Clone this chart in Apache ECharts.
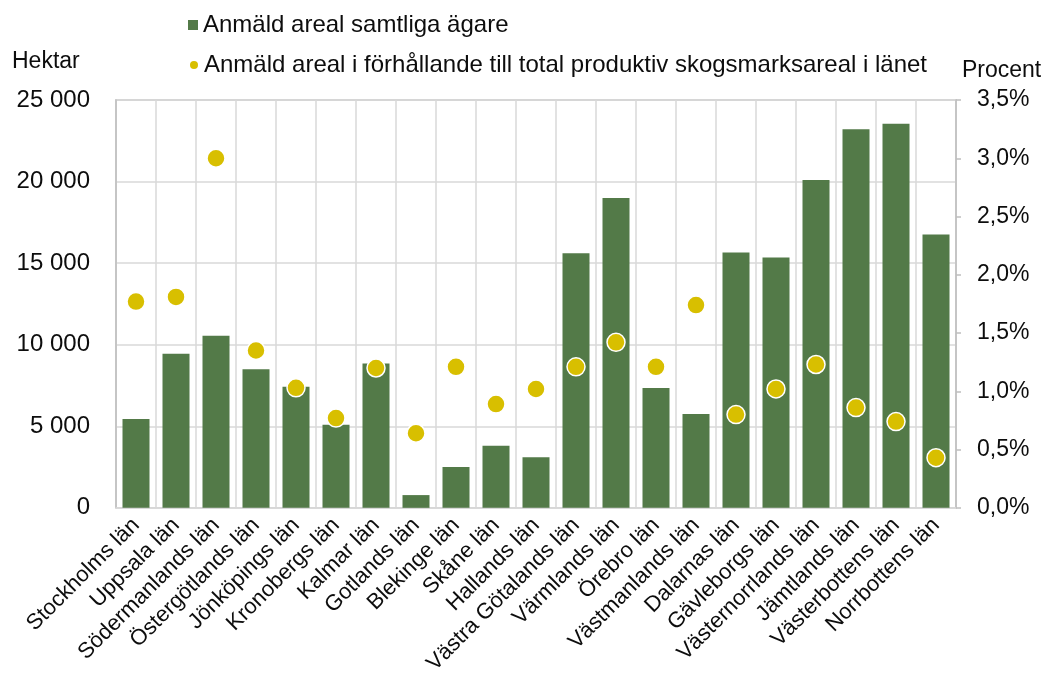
<!DOCTYPE html>
<html>
<head>
<meta charset="utf-8">
<script src="https://cdn.jsdelivr.net/npm/echarts@6/dist/echarts.min.js"></script>
<style>
html,body{margin:0;padding:0;background:#fff;}
#chart{width:1049px;height:677px;}
</style>
</head>
<body>
<div id="chart"></div>
<script>
var categories = ["Stockholms län","Uppsala län","Södermanlands län","Östergötlands län","Jönköpings län","Kronobergs län","Kalmar län","Gotlands län","Blekinge län","Skåne län","Hallands län","Västra Götalands län","Värmlands län","Örebro län","Västmanlands län","Dalarnas län","Gävleborgs län","Västernorrlands län","Jämtlands län","Västerbottens län","Norrbottens län"];
var hektar = [5450, 9450, 10550, 8500, 7425, 5100, 8850, 780, 2500, 3800, 3100, 15600, 19000, 7350, 5750, 15650, 15350, 20100, 23200, 23550, 16750];
var procent = [1.77, 1.81, 3.00, 1.35, 1.03, 0.77, 1.20, 0.64, 1.21, 0.89, 1.02, 1.21, 1.42, 1.21, 1.74, 0.80, 1.02, 1.23, 0.86, 0.74, 0.43];
var seriesNames = ["Anmäld areal samtliga ägare", "Anmäld areal i förhållande till total produktiv skogsmarksareal i länet"];
var leftTicks = {min: 0, max: 25000, interval: 5000};
var rightTicks = {min: 0, max: 3.5, interval: 0.5};

var FONT = '"Liberation Sans", Arial, sans-serif';
var chart = echarts.init(document.getElementById('chart'));
chart.setOption({
  animation: false,
  textStyle: {fontFamily: FONT, color: '#0d0d0d'},
  legend: [
    {data: [{name: seriesNames[0], icon: 'rect'}], left: 183, top: 7, itemWidth: 10, itemHeight: 10, itemGap: 0,
     textStyle: {fontFamily: FONT, fontSize: 24, color: '#0d0d0d', lineHeight: 26}},
    {data: [{name: seriesNames[1], icon: 'circle'}], left: 183, top: 47, itemWidth: 10, itemHeight: 10, itemGap: 0,
     textStyle: {fontFamily: FONT, fontSize: 24, color: '#0d0d0d', lineHeight: 26}}
  ],
  graphic: [
    {type: 'text', left: 12, top: 50, style: {text: 'Hektar', font: '23px ' + FONT, fill: '#0d0d0d'}},
    {type: 'text', left: 962, top: 59, style: {text: 'Procent', font: '23px ' + FONT, fill: '#0d0d0d'}}
  ],
  grid: {left: 116, right: 93, top: 100, bottom: 163.5, show: true, borderColor: '#bfbfbf', borderWidth: 1.5},
  xAxis: {
    type: 'category', data: categories, boundaryGap: true,
    axisLine: {show: true, lineStyle: {color: '#d9d9d9', width: 1.5}},
    axisTick: {show: false},
    splitLine: {show: true, lineStyle: {color: '#d9d9d9', width: 1.5}},
    axisLabel: {rotate: 45, interval: 0, fontSize: 22, margin: 14, color: '#0d0d0d', fontFamily: FONT}
  },
  yAxis: [
    {type: 'value', min: leftTicks.min, max: leftTicks.max, interval: leftTicks.interval, position: 'left',
     axisLine: {show: true, lineStyle: {color: '#bfbfbf', width: 1.5}}, axisTick: {show: false},
     splitLine: {show: true, lineStyle: {color: '#d9d9d9', width: 1.5}},
     axisLabel: {fontSize: 24, margin: 26, color: '#0d0d0d', fontFamily: FONT,
       formatter: function (v) { return String(v).replace(/\B(?=(\d{3})+(?!\d))/g, ' '); }}},
    {type: 'value', min: rightTicks.min, max: rightTicks.max, interval: rightTicks.interval, position: 'right',
     axisLine: {show: true, lineStyle: {color: '#bfbfbf', width: 1.5}},
     axisTick: {show: true, inside: false, length: 5, lineStyle: {color: '#bfbfbf', width: 1.5}},
     splitLine: {show: false},
     axisLabel: {fontSize: 23, margin: 21, color: '#0d0d0d', fontFamily: FONT,
       formatter: function (v) { return v.toFixed(1).replace('.', ',') + '%'; }}}
  ],
  series: [
    {name: seriesNames[0], type: 'bar', data: hektar, yAxisIndex: 0, barWidth: 27,
     itemStyle: {color: '#537a48'}, z: 2},
    {name: seriesNames[1], type: 'scatter', data: procent, yAxisIndex: 1, symbol: 'circle', symbolSize: 18,
     itemStyle: {color: '#d8bf00', borderColor: '#ffffff', borderWidth: 1.5, opacity: 1}, z: 3}
  ]
});
</script>
</body>
</html>
